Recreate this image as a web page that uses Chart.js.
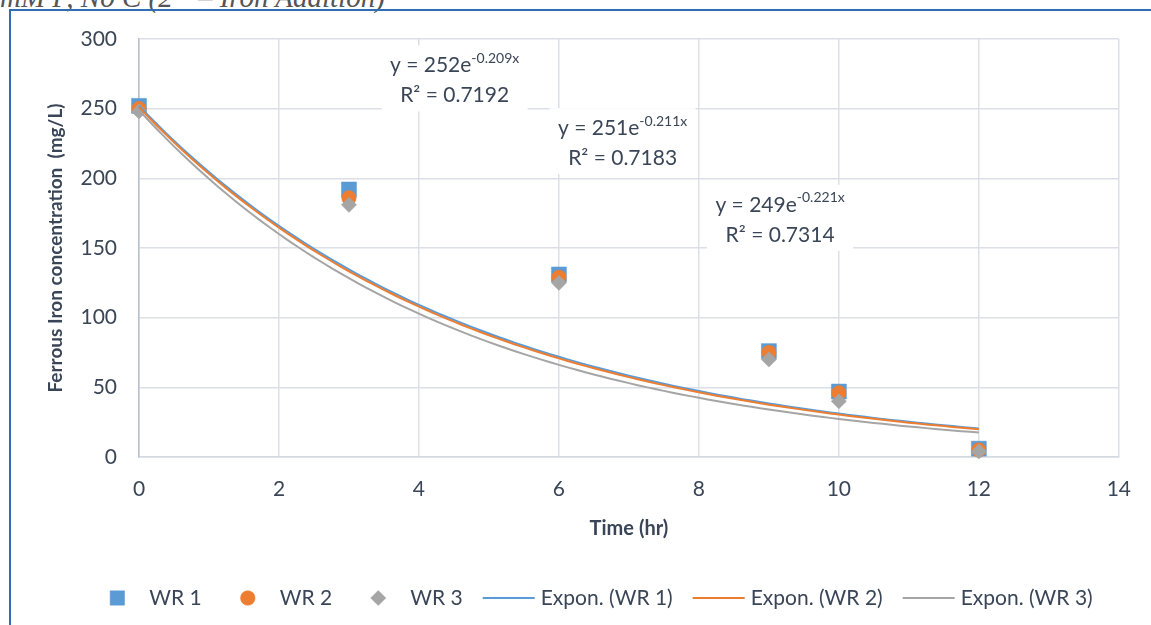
<!DOCTYPE html>
<html>
<head>
<meta charset="utf-8">
<script src="https://cdn.jsdelivr.net/npm/chart.js@4.4.0/dist/chart.umd.min.js"></script>
<style>
  html, body { margin: 0; padding: 0; background: #fff; width: 1151px; height: 625px; overflow: hidden; }
  #caption { position: absolute; left: 0px; top: -17px; height: 28px; font: italic 29px/28px "Liberation Serif", serif; color: #555; white-space: nowrap; }
  #caption sup { font-size: 18px; line-height: 0; vertical-align: baseline; position: relative; top: -20px; }
  #frame { position: absolute; left: 9px; top: 9px; width: 1200px; height: 700px; border-left: 2px solid #2F6EB5; border-top: 2px solid #2F6EB5; }
  #wrap { position: absolute; left: 0; top: 0; width: 1151px; height: 625px; }
</style>
</head>
<body>
<div id="caption">mM P, No C (2<sup>nd</sup> – Iron Addition)</div>
<div id="frame"></div>
<div id="wrap"><canvas id="c" width="1151" height="625"></canvas></div>
<script>
// Sampling times (hr)
const times = [0, 3, 6, 9, 10, 12];
// Ferrous iron concentration (mg/L) for each replicate
const wr1 = [252, 192, 131, 76, 47, 6];
const wr2 = [250, 186, 129, 75, 46, 5];
const wr3 = [248, 181, 125, 70, 40, 4];
// Exponential trendline coefficients: y = a * e^(k x)
const fitA = [252, 251, 249];
const fitK = [-0.209, -0.211, -0.221];
const fitR2 = ['0.7192', '0.7183', '0.7314'];
const fitKText = ['-0.209', '-0.211', '-0.221'];
const seriesNames = ['WR 1', 'WR 2', 'WR 3'];
const colors = ['#5B9BD5', '#ED7D31', '#A5A5A5'];
const markerStyles = ['rect', 'circle', 'rectRot'];
const markerRadii = [10.6, 7.3, 7.6];

const FONT = 'Lato';
const TEXT = '#3A4657';

const points = (ys) => times.map((t, i) => ({ x: t, y: ys[i] }));
// Trendline curves evaluated from the fitted equations across the measured range
const trend = (a, k) => {
  const pts = [];
  const tEnd = times[times.length - 1];
  for (let i = 0; i <= 96; i++) {
    const t = tEnd * i / 96;
    pts.push({ x: t, y: a * Math.exp(k * t) });
  }
  return pts;
};

const markerSets = [wr1, wr2, wr3].map((ys, i) => ({
  type: 'scatter',
  label: seriesNames[i],
  data: points(ys),
  pointStyle: markerStyles[i],
  pointRadius: markerRadii[i],
  pointHoverRadius: markerRadii[i],
  backgroundColor: colors[i],
  borderColor: colors[i],
  borderWidth: 0.5,
  showLine: false,
  clip: false,
  order: 6 - i
}));
const trendSets = fitA.map((a, i) => ({
  type: 'line',
  label: 'Expon. (' + seriesNames[i] + ')',
  data: trend(a, fitK[i]),
  borderColor: colors[i],
  borderWidth: 2,
  pointRadius: 0,
  tension: 0,
  fill: false,
  clip: false,
  order: 3 - i
}));

// Equation boxes, anchored in data units (centre x, first-line y)
const eqAnchors = [
  { x: 4.51, y: 281 },
  { x: 6.91, y: 236 },
  { x: 9.16, y: 181 }
];

const equationPlugin = {
  id: 'equations',
  afterDatasetsDraw(chart) {
    const { ctx, scales: { x, y } } = chart;
    ctx.save();
    eqAnchors.forEach((anc, i) => {
      const cx = x.getPixelForValue(anc.x);
      const ly = y.getPixelForValue(anc.y);
      const boxW = 146, boxH = 66;
      ctx.fillStyle = '#fff';
      ctx.fillRect(cx - boxW / 2, ly - 20, boxW, boxH);
      ctx.fillStyle = TEXT;
      ctx.textBaseline = 'middle';
      ctx.textAlign = 'left';
      const main = 'y = ' + fitA[i] + 'e';
      const sup = fitKText[i] + 'x';
      ctx.font = '21px ' + FONT;
      const mw = ctx.measureText(main).width;
      ctx.font = '14px ' + FONT;
      const sw = ctx.measureText(sup).width;
      const start = cx - (mw + sw) / 2;
      ctx.font = '21px ' + FONT;
      ctx.fillText(main, start, ly);
      ctx.font = '14px ' + FONT;
      ctx.fillText(sup, start + mw, ly - 7);
      ctx.font = '21px ' + FONT;
      ctx.textAlign = 'center';
      ctx.fillText('R\u00B2 = ' + fitR2[i], cx, ly + 30);
    });
    ctx.restore();
  }
};

// Legend laid out beneath the axis title
const legendPlugin = {
  id: 'bottomLegend',
  afterDraw(chart) {
    const { ctx } = chart;
    const symW = 52, gapText = 6, gapItem = 20, cy = 598, centerX = 592;
    ctx.save();
    ctx.font = '21px ' + FONT;
    const items = [];
    markerSets.forEach((d, i) => items.push({ kind: 'marker', i, text: d.label }));
    trendSets.forEach((d, i) => items.push({ kind: 'line', i, text: d.label }));
    let total = 0;
    items.forEach((it, n) => {
      it.w = ctx.measureText(it.text).width;
      total += symW + gapText + it.w + (n < items.length - 1 ? gapItem : 0);
    });
    let cur = centerX - total / 2;
    items.forEach((it) => {
      const c = colors[it.i];
      if (it.kind === 'marker') {
        ctx.fillStyle = c; ctx.strokeStyle = c; ctx.lineWidth = 0.5;
        ctx.beginPath();
        const r = it.i === 0 ? 7.2 : (it.i === 1 ? 7.3 : 7.6);
        const mx = cur + symW / 2;
        if (it.i === 0) ctx.rect(mx - r, cy - r, 2 * r, 2 * r);
        else if (it.i === 1) ctx.arc(mx, cy, r, 0, Math.PI * 2);
        else { ctx.moveTo(mx - r, cy); ctx.lineTo(mx, cy - r); ctx.lineTo(mx + r, cy); ctx.lineTo(mx, cy + r); ctx.closePath(); }
        ctx.fill(); ctx.stroke();
      } else {
        ctx.strokeStyle = c; ctx.lineWidth = 2;
        ctx.beginPath();
        ctx.moveTo(cur, cy); ctx.lineTo(cur + symW, cy);
        ctx.stroke();
      }
      ctx.fillStyle = TEXT;
      ctx.textAlign = 'left';
      ctx.textBaseline = 'middle';
      ctx.fillText(it.text, cur + symW + gapText, cy);
      cur += symW + gapText + it.w + gapItem;
    });
    ctx.restore();
  }
};

Chart.defaults.font.family = FONT;
Chart.defaults.color = TEXT;

new Chart(document.getElementById('c'), {
  type: 'scatter',
  data: { datasets: [...markerSets, ...trendSets] },
  options: {
    responsive: false,
    animation: false,
    events: [],
    layout: { padding: { left: 0, top: 39, right: 28, bottom: 84 } },
    plugins: {
      legend: { display: false },
      tooltip: { enabled: false }
    },
    scales: {
      x: {
        type: 'linear',
        min: 0, max: 14,
        ticks: { stepSize: 2, padding: 20, font: { size: 21 }, color: TEXT },
        grid: { color: '#DCE0E6', lineWidth: 1.5, drawTicks: false },
        border: { display: true, color: '#D3D8DF', width: 1.5 },
        title: { display: true, text: 'Time (hr)', font: { size: 20, weight: 'bold' }, color: TEXT, padding: { top: 0, bottom: 0 } },
        afterFit(scale) { scale.height = 84; }
      },
      y: {
        type: 'linear',
        min: 0, max: 300,
        ticks: { stepSize: 50, padding: 22, font: { size: 21 }, color: TEXT },
        grid: { color: '#DCE0E6', lineWidth: 1.5, drawTicks: false },
        border: { display: true, color: '#B8C0CC', width: 1.5 },
        title: { display: true, text: 'Ferrous Iron concentration  (mg/L)', font: { size: 19, weight: 'bold' }, color: TEXT, padding: { top: 44, bottom: 0 } },
        afterFit(scale) { scale.width = 139; }
      }
    }
  },
  plugins: [equationPlugin, legendPlugin]
});
</script>
</body>
</html>
